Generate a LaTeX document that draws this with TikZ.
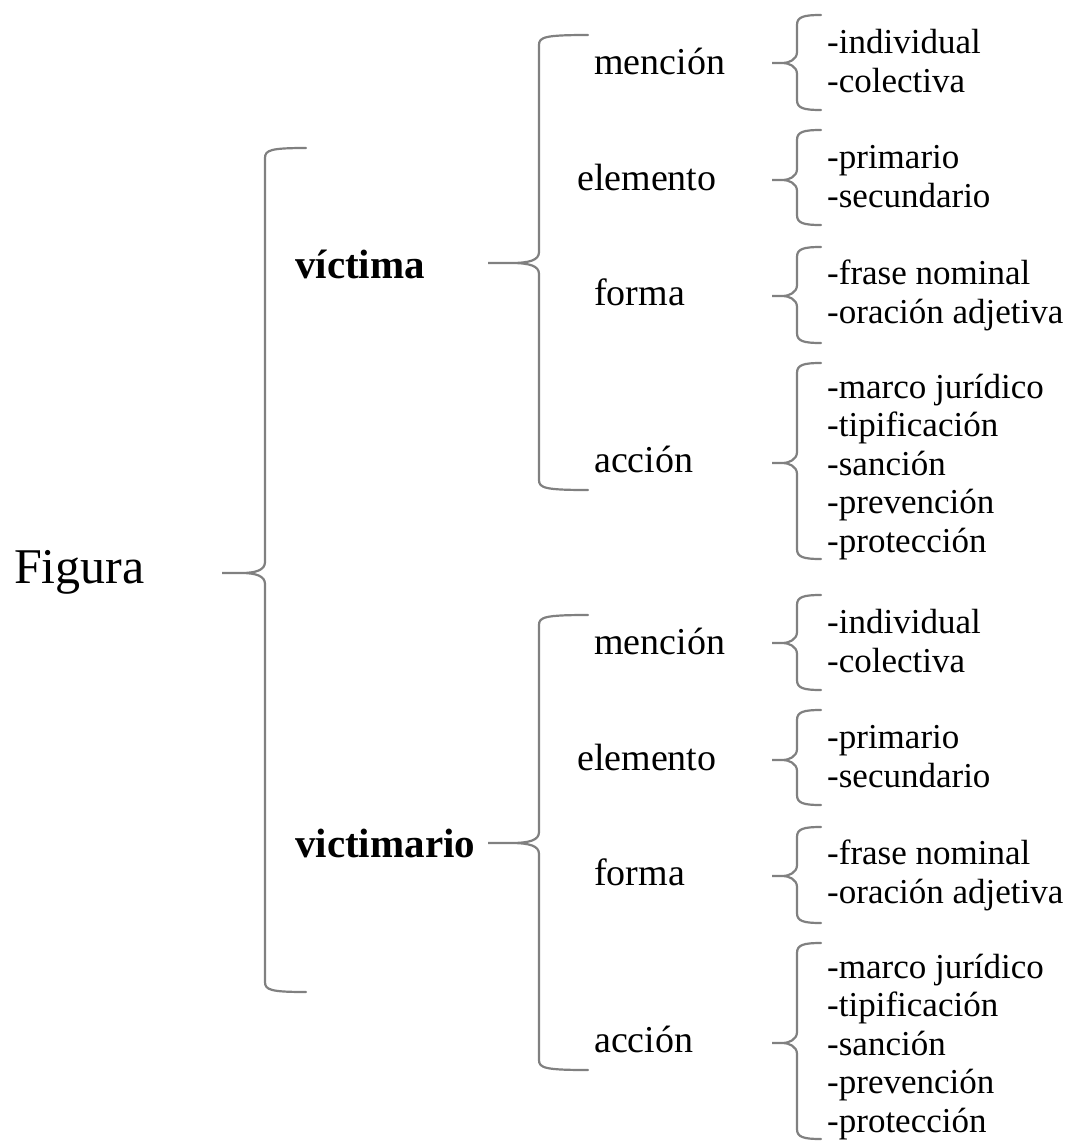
\documentclass[tikz,border=0pt]{standalone}
\usepackage{fontspec}
\setmainfont{Liberation Serif}
\definecolor{llavegris}{RGB}{128,128,128}
\tikzset{
  llave/.style={draw=llavegris, line width=2.2pt, line cap=round},
  raiz/.style={font=\fontsize{50}{60}\selectfont, inner sep=0pt, anchor=base west},
  rama/.style={font=\bfseries\fontsize{41}{48}\selectfont, inner sep=0pt, anchor=base west},
  sub/.style={font=\fontsize{38}{44}\selectfont, inner sep=0pt, anchor=base west},
  hoja/.style={font=\fontsize{35}{40}\selectfont, inner sep=0pt, anchor=base west},
}
% tip x, tip y, spine x, end x, top, bottom
\newcommand\llave[6]{%
  \draw[llave] (#4,#5)
    .. controls ({#3+6},#5) and (#3,{#5+2}) .. (#3,{#5+10})
    -- (#3,{#2-11})
    .. controls (#3,{#2-3}) and ({#3-9},#2) .. ({#3-0.55*(#3-#1)},#2)
    -- (#1,#2) -- ({#3-0.55*(#3-#1)},#2)
    .. controls ({#3-9},#2) and (#3,{#2+3}) .. (#3,{#2+11})
    -- (#3,{#6-10})
    .. controls (#3,{#6-2}) and ({#3+6},#6) .. (#4,#6);
}
\begin{document}
\begin{tikzpicture}[x=1pt,y=-1pt]
  \useasboundingbox (0,0) rectangle (1073,1146);
  \node[raiz] (fig) at (14,583) {Figura};
  \llave{222}{573}{265}{306}{148}{992}
  \node[rama] (vic) at (295,278) {víctima};
  \node[rama] (vio) at (295,857) {victimario};
  % the two halves are the same below the first level
  \foreach \d/\n in {0/a,580/b} {
    \llave{488}{263+\d}{539}{588}{35+\d}{490+\d}
    \node[sub] (men-\n) at (594,74+\d) {mención};
    \node[sub] (ele-\n) at (577,190+\d) {elemento};
    \node[sub] (for-\n) at (594,305+\d) {forma};
    \node[sub] (acc-\n) at (594,472+\d) {acción};
    \llave{772}{63+\d}{797}{821}{15+\d}{110+\d}
    \llave{772}{180+\d}{797}{821}{130+\d}{225+\d}
    \llave{772}{296+\d}{797}{821}{247+\d}{343+\d}
    \llave{772}{463+\d}{797}{821}{363+\d}{559+\d}
    \node[hoja] (ind-\n) at (827,53+\d) {-individual};
    \node[hoja] (col-\n) at (827,92+\d) {-colectiva};
    \node[hoja] (pri-\n) at (827,168+\d) {-primario};
    \node[hoja] (sec-\n) at (827,207+\d) {-secundario};
    \node[hoja] (fra-\n) at (827,284+\d) {-frase nominal};
    \node[hoja] (ora-\n) at (827,323+\d) {-oración adjetiva};
    \node[hoja] (mar-\n) at (827,398+\d) {-marco jurídico};
    \node[hoja] (tip-\n) at (827,436.5+\d) {-tipificación};
    \node[hoja] (san-\n) at (827,475+\d) {-sanción};
    \node[hoja] (pre-\n) at (827,513.5+\d) {-prevención};
    \node[hoja] (pro-\n) at (827,552+\d) {-protección};
  }
\end{tikzpicture}
\end{document}
